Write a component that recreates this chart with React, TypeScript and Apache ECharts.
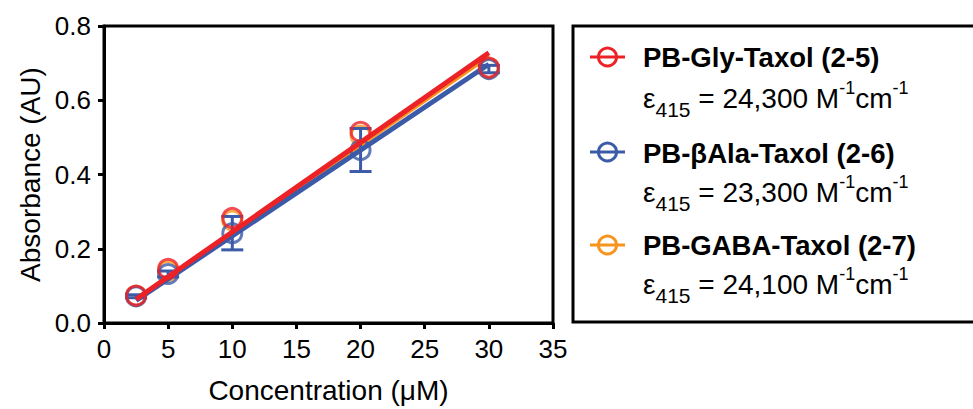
import React, { useEffect, useRef } from "react";
import * as echarts from "echarts";

const concentrations = [2.5, 5, 10, 20, 30];
const glyValues = [0.074, 0.146, 0.283, 0.515, 0.688];
const alaValues = [0.072, 0.132, 0.242, 0.466, 0.684];
const alaErr = [0.004, 0.008, 0.045, 0.058, 0.01];
const gabaValues = [0.073, 0.14, 0.276, 0.505, 0.686];

const fitRange = [2.5, 30];
const glyFit = [0.064, 0.728];
const alaFit = [0.061, 0.697];
const gabaFit = [0.063, 0.72];

const xTicks = { min: 0, max: 35, interval: 5 };
const yTicks = { min: 0, max: 0.8, interval: 0.2 };

const names = ["PB-Gly-Taxol (2-5)", "PB-βAla-Taxol (2-6)", "PB-GABA-Taxol (2-7)"];
const epsilons = ["24,300", "23,300", "24,100"];

const RED = "#EC2227";
const BLUE = "#3B5AA8";
const ORANGE = "#F7941E";
const FONT = "Liberation Sans, Arial, Helvetica, sans-serif";

function pairs(xs: number[], ys: number[]) {
  return xs.map((x, i) => [x, ys[i]]);
}

function fitSeries(name: string, fit: number[], color: string, z: number) {
  return {
    type: "line",
    name,
    data: pairs(fitRange, fit),
    showSymbol: false,
    lineStyle: { color, width: 5 },
    z,
    silent: true,
  };
}

function scatterSeries(name: string, vals: number[], color: string, z: number) {
  return {
    type: "scatter",
    name,
    data: pairs(concentrations, vals),
    symbol: "circle",
    symbolSize: 19,
    itemStyle: { color: "rgba(0,0,0,0)", borderColor: color, borderWidth: 3 },
    z,
  };
}

function errSeries(name: string, vals: number[], errs: number[], color: string, z: number) {
  return {
    type: "custom",
    name,
    data: concentrations.map((x, i) => [x, vals[i] - errs[i], vals[i] + errs[i]]),
    z,
    renderItem: (params: any, api: any) => {
      const lo = api.coord([api.value(0), api.value(1)]);
      const hi = api.coord([api.value(0), api.value(2)]);
      const w = 11;
      const style = { stroke: color, lineWidth: 3, fill: "none" };
      return {
        type: "group",
        children: [
          { type: "line", shape: { x1: lo[0], y1: lo[1], x2: hi[0], y2: hi[1] }, style },
          { type: "line", shape: { x1: lo[0] - w, y1: lo[1], x2: lo[0] + w, y2: lo[1] }, style },
          { type: "line", shape: { x1: hi[0] - w, y1: hi[1], x2: hi[0] + w, y2: hi[1] }, style },
        ],
      };
    },
  };
}

export default function App() {
  const ref = useRef<HTMLDivElement>(null);
  useEffect(() => {
    if (!ref.current) return;
    const chart = echarts.init(ref.current, null, { renderer: "svg" });
    const colors = [RED, BLUE, ORANGE];
    const iconY = [57, 152, 245];
    const titleY = [57, 153, 245];
    const epsY = [98, 192, 284];
    const legendItems: any[] = [];
    iconY.forEach((cy, i) => {
      legendItems.push(
        {
          type: "line",
          shape: { x1: 590, y1: cy, x2: 625, y2: cy },
          style: { stroke: colors[i], lineWidth: 3 },
        },
        {
          type: "circle",
          shape: { cx: 607.5, cy, r: 9 },
          style: { stroke: colors[i], lineWidth: 3, fill: "none" },
        },
        {
          type: "text",
          x: 643,
          y: titleY[i],
          style: {
            text: names[i],
            font: `bold 27.5px ${FONT}`,
            fill: "#000",
            verticalAlign: "middle",
            textAlign: "left",
          },
        },
        {
          type: "text",
          x: 643,
          y: epsY[i],
          style: {
            text: `{e|ε}{sub|415}{n| = ${epsilons[i]} M}{sup|-1}{n|cm}{sup|-1}`,
            verticalAlign: "middle",
            textAlign: "left",
            fill: "#000",
            rich: {
              e: { fontSize: 28, fontFamily: FONT, lineHeight: 44, verticalAlign: "middle" },
              n: { fontSize: 28, fontFamily: FONT, lineHeight: 44, verticalAlign: "middle" },
              sub: { fontSize: 21, fontFamily: FONT, lineHeight: 44, verticalAlign: "bottom" },
              sup: { fontSize: 18, fontFamily: FONT, lineHeight: 44, verticalAlign: "top", padding: [3, 0, 0, 0] },
            },
          },
        }
      );
    });

    chart.setOption({
      animation: false,
      backgroundColor: "#fff",
      grid: {
        left: 104,
        right: 420,
        top: 26,
        bottom: 84,
        show: true,
        borderColor: "#000",
        borderWidth: 3,
      },
      xAxis: {
        type: "value",
        min: xTicks.min,
        max: xTicks.max,
        interval: xTicks.interval,
        name: "Concentration (μM)",
        nameLocation: "middle",
        nameGap: 53,
        nameTextStyle: { fontFamily: FONT, fontSize: 28, color: "#000" },
        axisLine: { show: true, lineStyle: { color: "#000", width: 3 } },
        axisTick: { show: true, length: 6, lineStyle: { color: "#000", width: 3 } },
        axisLabel: { fontFamily: FONT, fontSize: 26, color: "#000", margin: 13 },
        splitLine: { show: false },
      },
      yAxis: {
        type: "value",
        min: yTicks.min,
        max: yTicks.max,
        interval: yTicks.interval,
        name: "Absorbance (AU)",
        nameLocation: "middle",
        nameGap: 60,
        nameTextStyle: { fontFamily: FONT, fontSize: 28, color: "#000" },
        axisLine: { show: true, lineStyle: { color: "#000", width: 3 } },
        axisTick: { show: true, length: 6, lineStyle: { color: "#000", width: 3 } },
        axisLabel: {
          fontFamily: FONT,
          fontSize: 26,
          color: "#000",
          margin: 13,
          formatter: (v: number) => v.toFixed(1),
        },
        splitLine: { show: false },
      },
      series: [
        fitSeries("gabaFit", gabaFit, ORANGE, 2),
        fitSeries("alaFit", alaFit, BLUE, 3),
        scatterSeries(names[2], gabaValues, ORANGE, 1),
        errSeries("alaErr", alaValues, alaErr, BLUE, 4),
        scatterSeries(names[1], alaValues, BLUE, 4),
        fitSeries("glyFit", glyFit, RED, 5),
        scatterSeries(names[0], glyValues, RED, 6),
      ],
      graphic: [
        {
          type: "rect",
          shape: { x: 573, y: 26, width: 420, height: 296 },
          style: { stroke: "#000", lineWidth: 3, fill: "none" },
        },
        ...legendItems,
      ],
    });
    return () => chart.dispose();
  }, []);
  return <div ref={ref} style={{ width: 973, height: 409, position: "absolute", left: 0, top: 0 }} />;
}
